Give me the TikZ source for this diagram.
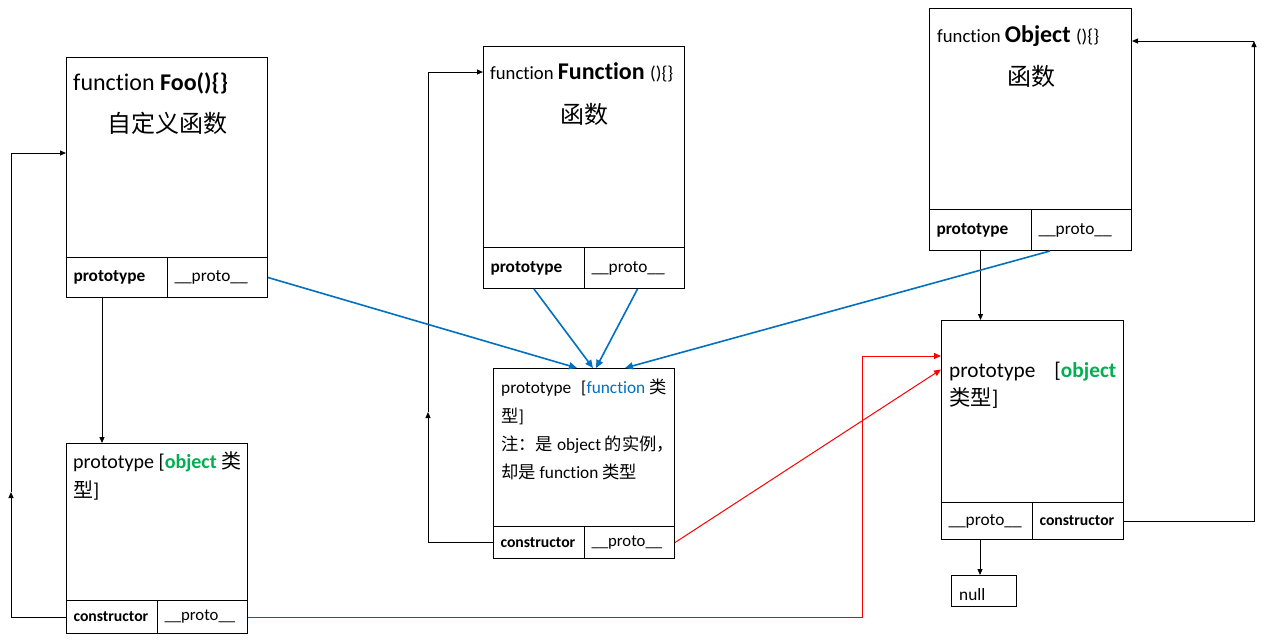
\documentclass[tikz,border=0pt]{standalone}
\usepackage{fontspec}
\setmainfont{Carlito}[Ligatures={NoCommon,TeX}]
\newfontfamily\cjk{Noto Sans CJK SC}
\usetikzlibrary{arrows.meta}
\definecolor{fblue}{RGB}{0,112,192}
\definecolor{ogreen}{RGB}{0,176,80}
\definecolor{lred}{RGB}{255,0,0}
\newcommand\fbig{\fontsize{24pt}{28pt}\selectfont}
\newcommand\fmid{\fontsize{18.7pt}{22pt}\selectfont}
\newcommand\fcell{\fontsize{17.3pt}{20pt}\selectfont}
\newcommand\fsmp{\fontsize{16.7pt}{20pt}\selectfont}
\newcommand\fsm{\fontsize{15.7pt}{19pt}\selectfont}
\newcommand\fbody{\fontsize{20pt}{29pt}\selectfont}
\newcommand\fbodyl{\fontsize{21.3pt}{29pt}\selectfont}
\begin{document}
\begin{tikzpicture}[x=1pt,y=-1pt,
  box/.style={draw, line width=1pt, anchor=north west, inner sep=0pt},
  cell/.style={box, inner xsep=7pt, inner ysep=0pt, align=left},
  txt/.style={anchor=base west, inner sep=0pt},
  ctxt/.style={anchor=base, inner sep=0pt},
  arr/.style={line width=1pt, -{Triangle[length=6pt,width=5pt]}},
  plain/.style={line width=1pt},
  barr/.style={line width=1.6pt, draw=fblue, -{Triangle[length=8pt,width=7pt]}},
  rarr/.style={line width=1pt, draw=lred, -{Triangle[length=7pt,width=6pt]}},
  rplain/.style={line width=1pt, draw=lred}]
\fill[white] (0,0) rectangle (1278,641);
\useasboundingbox (0,0) rectangle (1278,641);

% ---- function Foo
\node[box, minimum width=201pt, minimum height=200pt] (foo) at (66,57) {};
\node[cell, minimum height=40pt, text width=87pt] (fooP) at (66,257) {\fcell\textbf{prototype}};
\node[cell, minimum height=40pt, text width=86pt] (fooU) at (167,257) {\fcell\_\_proto\_\_};
\node[txt] (tfoo) at (73,90) {\fbig function \textbf{Foo()\{\}}};
\node[ctxt] (tfoo2) at (167,132) {\fbig\cjk 自定义函数};

% ---- function Function
\node[box, minimum width=201pt, minimum height=201pt] (func) at (483,46) {};
\node[cell, minimum height=41pt, text width=87pt] (funcP) at (483,247) {\fcell\textbf{prototype}};
\node[cell, minimum height=41pt, text width=86pt] (funcU) at (584,247) {\fcell\_\_proto\_\_};
\node[txt] (tfunc) at (490,79) {\fmid function \fbig\textbf{Function} \fmid()\{\}};
\node[ctxt] (tfunc2) at (584,123) {\fbig\cjk 函数};

% ---- function Object
\node[box, minimum width=202pt, minimum height=201pt] (obj) at (929,8) {};
\node[cell, minimum height=41pt, text width=88pt] (objP) at (929,209) {\fcell\textbf{prototype}};
\node[cell, minimum height=41pt, text width=86pt] (objU) at (1031,209) {\fcell\_\_proto\_\_};
\node[txt] (tobj) at (937,42) {\fmid function \fbig\textbf{Object} \fmid()\{\}};
\node[ctxt] (tobj2) at (1031,85) {\fbig\cjk 函数};

% ---- Foo.prototype
\node[box, minimum width=181pt, minimum height=157pt] (fooproto) at (66,443) {};
\node[cell, minimum height=33pt, text width=77pt] (fooprotoC) at (66,600) {\fsm\textbf{constructor}};
\node[cell, minimum height=33pt, text width=76pt] (fooprotoU) at (157,600) {\fsmp\_\_proto\_\_};
\node[txt] (tfp1) at (73,468) {\fbody prototype [\textcolor{ogreen}{\textbf{object}} {\cjk 类}};
\node[txt] (tfp2) at (73,497) {\fbody{\cjk 型}]};

% ---- Function.prototype
\node[box, minimum width=181pt, minimum height=158pt] (funcproto) at (493,368) {};
\node[cell, minimum height=32pt, text width=77pt] (funcprotoC) at (493,526) {\fsm\textbf{constructor}};
\node[cell, minimum height=32pt, text width=76pt] (funcprotoU) at (584,526) {\fsmp\_\_proto\_\_};
\node[txt] (tfu1) at (501,393) {\fcell prototype\hspace{10pt}[\textcolor{fblue}{function} {\cjk 类}};
\node[txt] (tfu2) at (501,422) {\fcell{\cjk 型}]};
\node[txt] (tfu3) at (501,450) {\fcell{\cjk 注：是} object {\cjk 的实例，}};
\node[txt] (tfu4) at (501,478) {\fcell{\cjk 却是} function {\cjk 类型}};

% ---- Object.prototype
\node[box, minimum width=182pt, minimum height=182pt] (objproto) at (941,320) {};
\node[cell, minimum height=37pt, text width=77pt] (objprotoU) at (941,502) {\fcell\_\_proto\_\_};
\node[cell, minimum height=37pt, text width=77pt] (objprotoC) at (1032,502) {\fsm\textbf{constructor}};
\node[txt] (tob1) at (949,377) {\fbodyl prototype\hspace{19pt}[\textbf{\textcolor{ogreen}{object}}};
\node[txt] (tob2) at (949,405) {\fbodyl{\cjk 类型}]};

% ---- null
\node[box, minimum width=65pt, minimum height=31pt] (null) at (951,575) {};
\node[txt] (tnull) at (959,600) {\fcell null};

% ---- coordinates for loops
\coordinate (c1) at (11,492);
\coordinate (c1t) at (11,153);
\coordinate (c2) at (428,412);
\coordinate (c2t) at (428,72);
\coordinate (c3) at (1254,41);
\coordinate (r1) at (862,356);

% ---- black connectors
\draw[arr] ([xshift=36pt]fooP.south west) -- ([xshift=36pt]fooP.south west |- fooproto.north);
\draw[arr] (fooprotoC.west) -| (c1);
\draw[arr] (c1) -- (c1t) -- (c1t -| foo.west);
\draw[arr] (funcprotoC.west) -| (c2);
\draw[arr] (c2) -- (c2t) -- (c2t -| func.west);
\draw[arr] (objprotoC.east) -| (c3);
\draw[arr] (c3) -- (c3 -| obj.east);
\draw[arr] (objP.south) -- (objP.south |- objproto.north);
\draw[arr] ([xshift=39pt]objprotoU.south west) -- ([xshift=39pt]objprotoU.south west |- null.north);

% ---- blue connectors
\draw[barr] (fooU.east) -- ([xshift=-7pt]funcproto.north);
\draw[barr] (funcP.south) -- ([xshift=9pt]funcproto.north);
\draw[barr] ([xshift=3pt]funcU.south) -- ([xshift=12pt]funcproto.north);
\draw[barr] ([xshift=19pt]objU.south west) -- ([xshift=41pt]funcproto.north);

% ---- red connectors
\draw[rarr] (fooprotoU.east) -| (r1) -- (r1 -| objproto.west);
\draw[rarr] (funcprotoU.east) -- ([yshift=42pt]objproto.west);
\end{tikzpicture}
\end{document}
